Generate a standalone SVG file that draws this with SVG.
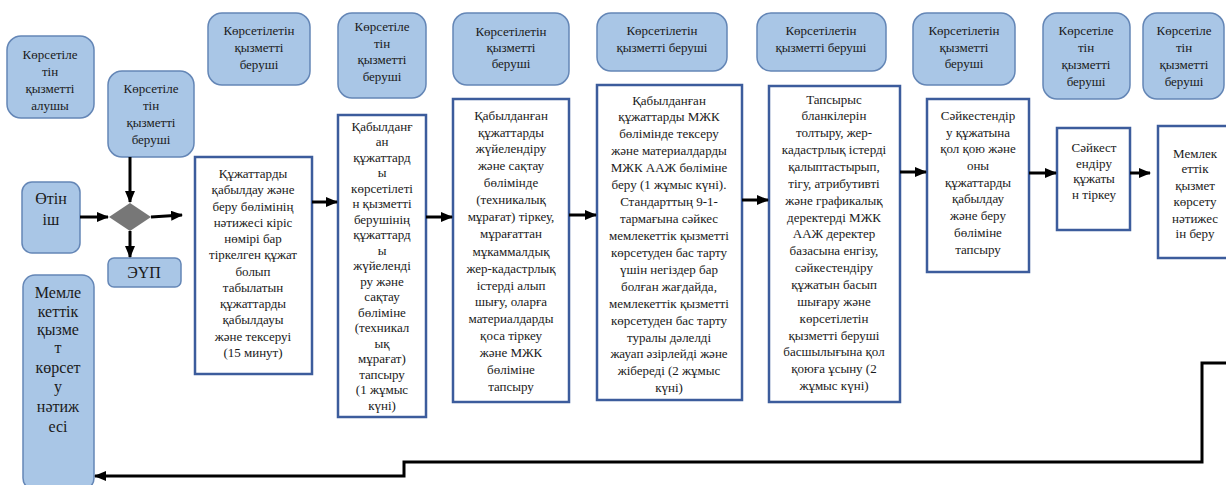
<svg xmlns="http://www.w3.org/2000/svg" width="1226" height="485" viewBox="0 0 1226 485" font-family="Liberation Serif, Times New Roman, Times, DejaVu Serif, serif">
<style>
.blue{fill:#a9c6e6;stroke:#6486b6;stroke-width:1.5}
.box{fill:#ffffff;stroke:#3c5c9c;stroke-width:2.5}
text{fill:#1a1a1a;text-anchor:middle}
.t{font-size:13px}
.tl{font-size:16px}
.c{fill:none;stroke:#000;stroke-width:3}
</style>
<defs>
<marker id="ah" markerWidth="12" markerHeight="10" refX="11" refY="5" orient="auto" markerUnits="userSpaceOnUse">
<path d="M0,0 L12,5 L0,10 Z" fill="#000"/>
</marker>
</defs>
<rect width="1226" height="485" fill="#ffffff"/>

<g id="n-alushy">
<rect class="blue" x="7" y="36" width="87" height="82" rx="14"/>
<text class="t"><tspan x="50" y="59">Көрсетіле</tspan><tspan x="50" y="76">тін</tspan><tspan x="50" y="93">қызметті</tspan><tspan x="50" y="110">алушы</tspan></text>
</g>
<g id="n-berushi0">
<rect class="blue" x="108" y="71" width="86" height="86" rx="14"/>
<text class="t"><tspan x="151" y="93">Көрсетіле</tspan><tspan x="151" y="110">тін</tspan><tspan x="151" y="127">қызметті</tspan><tspan x="151" y="144">беруші</tspan></text>
</g>
<g id="n-otinish">
<rect class="blue" x="22" y="182" width="58" height="71" rx="10"/>
<text class="tl"><tspan x="51" y="204">Өтін</tspan><tspan x="51" y="225">іш</tspan></text>
</g>
<g id="n-diamond">
<polygon points="130,203 151,217 130,231 109,217" fill="#777777"/>
</g>
<g id="n-eup">
<rect class="blue" x="108" y="258" width="73" height="29" rx="6"/>
<text class="tl" x="144" y="278">ЭҮП</text>
</g>
<g id="n-result">
<rect class="blue" x="23" y="275" width="71" height="215" rx="12"/>
<text class="tl"><tspan x="58" y="298">Мемле</tspan><tspan x="58" y="317">кеттік</tspan><tspan x="58" y="335">қызме</tspan><tspan x="58" y="353">т</tspan><tspan x="58" y="373">көрсет</tspan><tspan x="58" y="392">у</tspan><tspan x="58" y="412">нәтиж</tspan><tspan x="58" y="432">есі</tspan></text>
</g>

<g id="n-h1">
<rect class="blue" x="208" y="13" width="102" height="72" rx="14"/>
<text class="t"><tspan x="259" y="35">Көрсетілетін</tspan><tspan x="259" y="52">қызметті</tspan><tspan x="259" y="69">беруші</tspan></text>
</g>
<g id="n-s1">
<rect class="box" x="195" y="157" width="117" height="217"/>
<text class="t"><tspan x="253" y="178">Құжаттарды</tspan><tspan x="253" y="194">қабылдау және</tspan><tspan x="253" y="211">беру бөлімінің</tspan><tspan x="253" y="227">нәтижесі кіріс</tspan><tspan x="253" y="243">нөмірі бар</tspan><tspan x="253" y="259">тіркелген құжат</tspan><tspan x="253" y="276">болып</tspan><tspan x="253" y="292">табылатын</tspan><tspan x="253" y="308">құжаттарды</tspan><tspan x="253" y="324">қабылдауы</tspan><tspan x="253" y="341">және тексеруі</tspan><tspan x="253" y="357">(15 минут)</tspan></text>
</g>

<g id="n-h2">
<rect class="blue" x="338" y="13" width="88" height="85" rx="14"/>
<text class="t"><tspan x="382" y="31">Көрсетіле</tspan><tspan x="382" y="48">тін</tspan><tspan x="382" y="64">қызметті</tspan><tspan x="382" y="81">беруші</tspan></text>
</g>
<g id="n-s2">
<rect class="box" x="338" y="115" width="88" height="302"/>
<text class="t"><tspan x="382" y="131">Қабылданғ</tspan><tspan x="382" y="146">ан</tspan><tspan x="382" y="162">құжаттард</tspan><tspan x="382" y="177">ы</tspan><tspan x="382" y="193">көрсетілеті</tspan><tspan x="382" y="208">н қызметті</tspan><tspan x="382" y="224">берушінің</tspan><tspan x="382" y="239">құжаттард</tspan><tspan x="382" y="255">ы</tspan><tspan x="382" y="270">жүйеленді</tspan><tspan x="382" y="286">ру және</tspan><tspan x="382" y="301">сақтау</tspan><tspan x="382" y="317">бөліміне</tspan><tspan x="382" y="332">(техникал</tspan><tspan x="382" y="348">ық</tspan><tspan x="382" y="363">мұрағат)</tspan><tspan x="382" y="379">тапсыру</tspan><tspan x="382" y="394">(1 жұмыс</tspan><tspan x="382" y="410">күні)</tspan></text>
</g>

<g id="n-h3">
<rect class="blue" x="453" y="13" width="116" height="72" rx="14"/>
<text class="t"><tspan x="511" y="36">Көрсетілетін</tspan><tspan x="511" y="52">қызметті</tspan><tspan x="511" y="68">беруші</tspan></text>
</g>
<g id="n-s3">
<rect class="box" x="453" y="99" width="116" height="303"/>
<text class="t"><tspan x="511" y="120">Қабылданған</tspan><tspan x="511" y="137">құжаттарды</tspan><tspan x="511" y="153">жүйелендіру</tspan><tspan x="511" y="170">және сақтау</tspan><tspan x="511" y="187">бөлімінде</tspan><tspan x="511" y="204">(техникалық</tspan><tspan x="511" y="221">мұрағат) тіркеу,</tspan><tspan x="511" y="238">мұрағаттан</tspan><tspan x="511" y="256">мұкаммалдық</tspan><tspan x="511" y="273">жер-кадастрлық</tspan><tspan x="511" y="290">істерді алып</tspan><tspan x="511" y="306">шығу, оларға</tspan><tspan x="511" y="323">материалдарды</tspan><tspan x="511" y="340">қоса тіркеу</tspan><tspan x="511" y="357">және МЖК</tspan><tspan x="511" y="374">бөліміне</tspan><tspan x="511" y="391">тапсыру</tspan></text>
</g>

<g id="n-h4">
<rect class="blue" x="597" y="13" width="130" height="58" rx="14"/>
<text class="t"><tspan x="662" y="35">Көрсетілетін</tspan><tspan x="662" y="52">қызметті беруші</tspan></text>
</g>
<g id="n-s4">
<rect class="box" x="597" y="85" width="145" height="315"/>
<text class="t"><tspan x="669" y="105">Қабылданған</tspan><tspan x="669" y="121">құжаттарды МЖК</tspan><tspan x="669" y="138">бөлімінде тексеру</tspan><tspan x="669" y="155">және материалдарды</tspan><tspan x="669" y="172">МЖК ААЖ бөліміне</tspan><tspan x="669" y="189">беру (1 жұмыс күні).</tspan><tspan x="669" y="206">Стандарттың 9-1-</tspan><tspan x="669" y="223">тармағына сәйкес</tspan><tspan x="669" y="240">мемлекеттік қызметті</tspan><tspan x="669" y="257">көрсетуден бас тарту</tspan><tspan x="669" y="274">үшін негіздер бар</tspan><tspan x="669" y="291">болған жағдайда,</tspan><tspan x="669" y="308">мемлекеттік қызметті</tspan><tspan x="669" y="325">көрсетуден бас тарту</tspan><tspan x="669" y="342">туралы дәлелді</tspan><tspan x="669" y="358">жауап әзірлейді және</tspan><tspan x="669" y="375">жібереді (2 жұмыс</tspan><tspan x="669" y="392">күні)</tspan></text>
</g>

<g id="n-h5">
<rect class="blue" x="757" y="13" width="129" height="58" rx="14"/>
<text class="t"><tspan x="821" y="35">Көрсетілетін</tspan><tspan x="821" y="52">қызметті беруші</tspan></text>
</g>
<g id="n-s5">
<rect class="box" x="769" y="86" width="131" height="316"/>
<text class="t"><tspan x="834" y="104">Тапсырыс</tspan><tspan x="834" y="120">бланкілерін</tspan><tspan x="834" y="137">толтыру, жер-</tspan><tspan x="834" y="154">кадастрлық істерді</tspan><tspan x="834" y="171">қалыптастырып,</tspan><tspan x="834" y="188">тігу, атрибутивті</tspan><tspan x="834" y="205">және графикалық</tspan><tspan x="834" y="222">деректерді МЖК</tspan><tspan x="834" y="238">ААЖ деректер</tspan><tspan x="834" y="255">базасына енгізу,</tspan><tspan x="834" y="272">сәйкестендіру</tspan><tspan x="834" y="289">құжатын басып</tspan><tspan x="834" y="306">шығару және</tspan><tspan x="834" y="323">көрсетілетін</tspan><tspan x="834" y="340">қызметті беруші</tspan><tspan x="834" y="356">басшылығына қол</tspan><tspan x="834" y="373">қоюға ұсыну (2</tspan><tspan x="834" y="390">жұмыс күні)</tspan></text>
</g>

<g id="n-h6">
<rect class="blue" x="913" y="13" width="102" height="72" rx="14"/>
<text class="t"><tspan x="964" y="35">Көрсетілетін</tspan><tspan x="964" y="52">қызметті</tspan><tspan x="964" y="68">беруші</tspan></text>
</g>
<g id="n-s6">
<rect class="box" x="927" y="99" width="102" height="173"/>
<text class="t"><tspan x="978" y="120">Сәйкестендір</tspan><tspan x="978" y="137">у құжатына</tspan><tspan x="978" y="153">қол қою және</tspan><tspan x="978" y="170">оны</tspan><tspan x="978" y="187">құжаттарды</tspan><tspan x="978" y="203">қабылдау</tspan><tspan x="978" y="220">және беру</tspan><tspan x="978" y="237">бөліміне</tspan><tspan x="978" y="254">тапсыру</tspan></text>
</g>

<g id="n-h7">
<rect class="blue" x="1043" y="13" width="87" height="86" rx="14"/>
<text class="t"><tspan x="1086" y="35">Көрсетіле</tspan><tspan x="1086" y="52">тін</tspan><tspan x="1086" y="69">қызметті</tspan><tspan x="1086" y="86">беруші</tspan></text>
</g>
<g id="n-s7">
<rect class="box" x="1057" y="128" width="73" height="102"/>
<text class="t"><tspan x="1094" y="152">Сәйкест</tspan><tspan x="1094" y="168">ендіру</tspan><tspan x="1094" y="183">құжаты</tspan><tspan x="1094" y="199">н тіркеу</tspan></text>
</g>

<g id="n-h8">
<rect class="blue" x="1143" y="13" width="81" height="86" rx="14"/>
<text class="t"><tspan x="1184" y="35">Көрсетіле</tspan><tspan x="1184" y="52">тін</tspan><tspan x="1184" y="69">қызметті</tspan><tspan x="1184" y="86">беруші</tspan></text>
</g>
<g id="n-s8">
<rect class="box" x="1158" y="126" width="80" height="132"/>
<text class="t"><tspan x="1195" y="158">Мемлек</tspan><tspan x="1195" y="173">еттік</tspan><tspan x="1195" y="190">қызмет</tspan><tspan x="1195" y="206">көрсету</tspan><tspan x="1195" y="223">нәтижес</tspan><tspan x="1195" y="238">ін беру</tspan></text>
</g>

<g id="connectors">
<line class="c" x1="80" y1="217" x2="108" y2="217" marker-end="url(#ah)"/>
<line class="c" x1="130" y1="157" x2="130" y2="202" marker-end="url(#ah)"/>
<line class="c" x1="130" y1="231" x2="130" y2="257" marker-end="url(#ah)"/>
<line class="c" x1="151" y1="217" x2="182" y2="215" marker-end="url(#ah)"/>
<line class="c" x1="312" y1="202" x2="337" y2="202" marker-end="url(#ah)"/>
<line class="c" x1="426" y1="217" x2="452" y2="217" marker-end="url(#ah)"/>
<line class="c" x1="569" y1="215" x2="596" y2="215" marker-end="url(#ah)"/>
<line class="c" x1="742" y1="200" x2="768" y2="200" marker-end="url(#ah)"/>
<line class="c" x1="900" y1="172" x2="926" y2="172" marker-end="url(#ah)"/>
<line class="c" x1="1029" y1="173" x2="1056" y2="173" marker-end="url(#ah)"/>
<line class="c" x1="1130" y1="173" x2="1150" y2="173" marker-end="url(#ah)"/>
<polyline class="c" points="1228,363 1202,363 1202,462 404,462 404,476 95,476" marker-end="url(#ah)"/>
</g>
</svg>
